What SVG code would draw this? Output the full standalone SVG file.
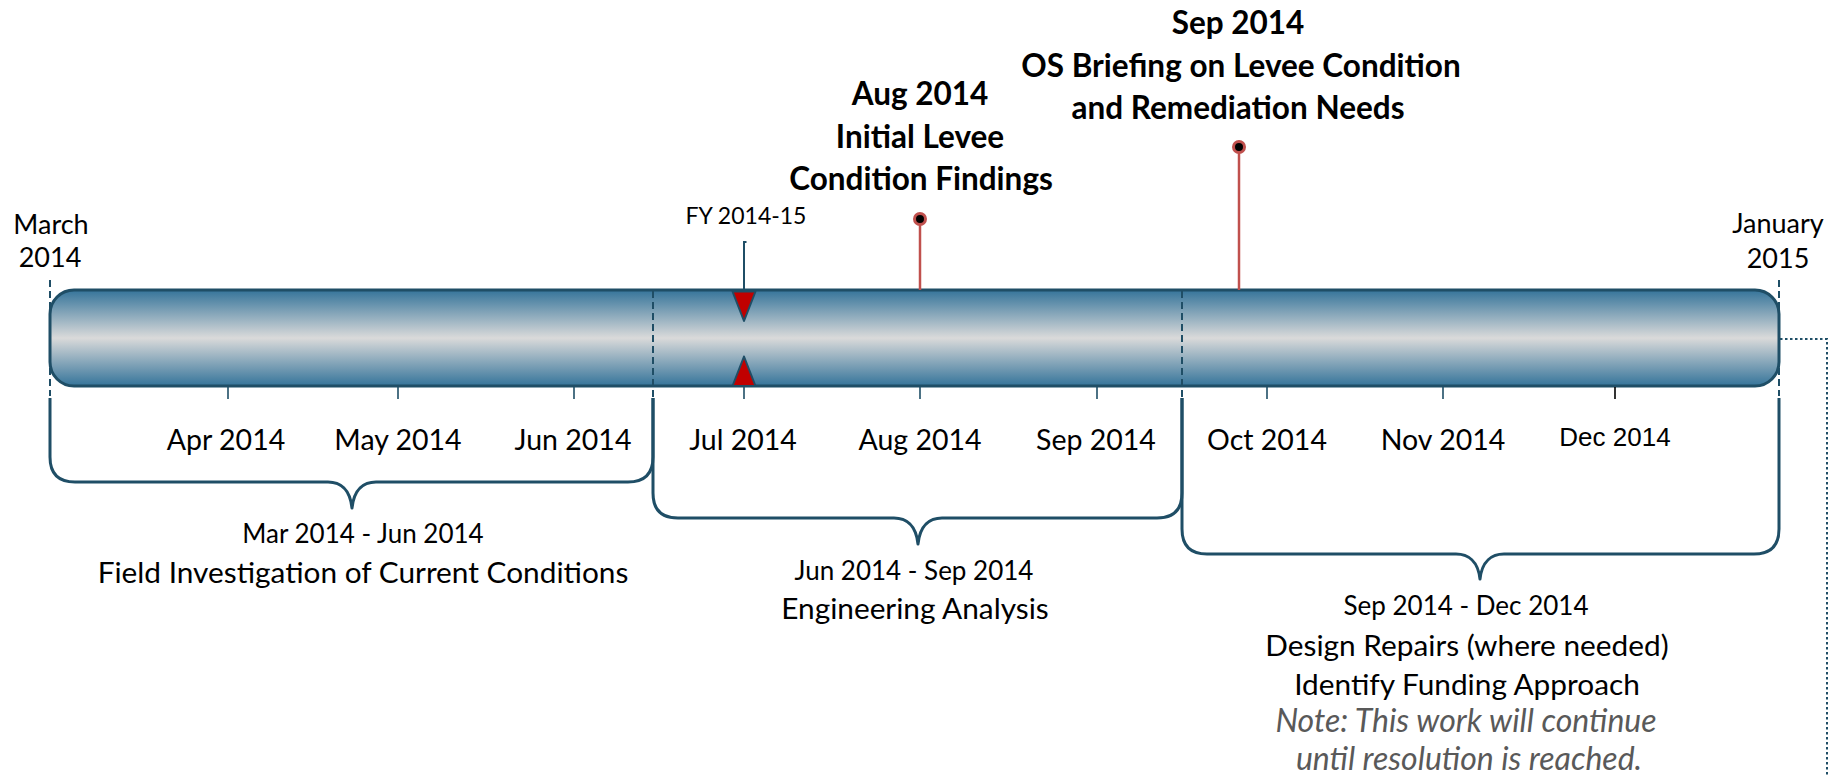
<svg xmlns="http://www.w3.org/2000/svg" width="1844" height="776" viewBox="0 0 1844 776">
<defs>
<linearGradient id="barGrad" x1="0" y1="0" x2="0" y2="1">
<stop offset="0" stop-color="#35749a"/>
<stop offset="0.5" stop-color="#dadada"/>
<stop offset="1" stop-color="#35749a"/>
</linearGradient>
<style>
text{font-family:Lato,"Open Sans","Liberation Sans",sans-serif;fill:#000;text-anchor:middle}
.mon{font-size:28.5px}
.end{font-size:27px}
.fy{font-size:23px}
.head{font-size:31.5px;font-weight:bold}
.rng{font-size:26px}
.desc{font-size:29.8px}
.note{font-size:32px;font-style:italic;fill:#595959}
.dec{font-family:"Liberation Sans",Arial,sans-serif;font-size:26px}
.brace{fill:none;stroke:#1f4e66;stroke-width:3;stroke-linejoin:round}
.tick{stroke:#1f4e66;stroke-width:1.6}
.dash{stroke:#1f4e66;stroke-width:2;stroke-dasharray:7 4}
.pin{stroke:#c0504d;stroke-width:2.5}
.pinhead{fill:#000;stroke:#c0504d;stroke-width:3}
.tri{fill:#c00000;stroke:#1f4e66;stroke-width:2;stroke-linejoin:round}
</style>
</defs>

<g id="timeline-bar">
<rect x="50" y="290" width="1729" height="96" rx="24" ry="24" fill="url(#barGrad)" stroke="#1f4e66" stroke-width="3"/>
<line class="dash" x1="653" y1="291" x2="653" y2="400"/>
<line class="dash" x1="1182" y1="291" x2="1182" y2="400"/>
<line class="dash" x1="50" y1="280" x2="50" y2="396"/>
<line class="dash" x1="1779" y1="280" x2="1779" y2="396"/>
</g>

<g id="month-ticks">
<line class="tick" x1="228" y1="387" x2="228" y2="399"/>
<line class="tick" x1="398" y1="387" x2="398" y2="399"/>
<line class="tick" x1="574" y1="387" x2="574" y2="399"/>
<line class="tick" x1="744" y1="387" x2="744" y2="399"/>
<line class="tick" x1="920" y1="387" x2="920" y2="399"/>
<line class="tick" x1="1097" y1="387" x2="1097" y2="399"/>
<line class="tick" x1="1267" y1="387" x2="1267" y2="399"/>
<line class="tick" x1="1443" y1="387" x2="1443" y2="399"/>
<line class="tick" x1="1615" y1="387" x2="1615" y2="399" style="stroke:#000"/>
</g>

<g id="month-labels">
<text class="mon" x="226" y="450">Apr 2014</text>
<text class="mon" x="398" y="450">May 2014</text>
<text class="mon" x="573" y="450">Jun 2014</text>
<text class="mon" x="743" y="450">Jul 2014</text>
<text class="mon" x="920" y="450">Aug 2014</text>
<text class="mon" x="1096" y="450">Sep 2014</text>
<text class="mon" x="1267" y="450">Oct 2014</text>
<text class="mon" x="1443" y="450">Nov 2014</text>
<text class="dec" x="1615" y="446">Dec 2014</text>
</g>

<g id="start-label">
<text class="end" x="51" y="234">March</text>
<text class="end" x="50" y="267">2014</text>
</g>
<g id="end-label">
<text class="end" x="1778" y="233">January</text>
<text class="end" x="1778" y="268">2015</text>
</g>

<g id="fy-marker">
<text class="fy" x="746" y="224">FY 2014-15</text>
<path d="M746.5 242 H744 V290" fill="none" stroke="#1f4e66" stroke-width="2"/>
<polygon class="tri" points="732.5,291.5 755.5,291.5 744,321"/>
<polygon class="tri" points="732.5,386 755.5,386 744,356.5"/>
</g>

<g id="connectors">
<line class="pin" x1="920" y1="224" x2="920" y2="290"/>
<line class="pin" x1="1239" y1="152" x2="1239" y2="290"/>
<path d="M1780 339 H1827 V776" fill="none" stroke="#1f4e66" stroke-width="2" stroke-dasharray="2.5 2.5"/>
</g>

<g id="milestone-aug">
<circle class="pinhead" cx="920" cy="219" r="5.5"/>
<text class="head" x="920" y="105">Aug 2014</text>
<text class="head" x="920" y="148">Initial Levee</text>
<text class="head" x="921" y="190">Condition Findings</text>
</g>

<g id="milestone-sep">
<circle class="pinhead" cx="1239" cy="147" r="5.5"/>
<text class="head" x="1238" y="34">Sep 2014</text>
<text class="head" x="1241" y="77">OS Briefing on Levee Condition</text>
<text class="head" x="1238" y="119">and Remediation Needs</text>
</g>

<g id="phase-field">
<path class="brace" d="M50 398 V457 Q50 482 75 482 H328 C340 482 350 489 352 508 C354 489 364 482 376 482 H628 Q653 482 653 457 V398"/>
<text class="rng" x="363" y="543">Mar 2014 - Jun 2014</text>
<text class="desc" x="363" y="583">Field Investigation of Current Conditions</text>
</g>

<g id="phase-engineering">
<path class="brace" d="M653 398 V493 Q653 518 678 518 H894 C906 518 916 525 918 544 C920 525 930 518 942 518 H1157 Q1182 518 1182 493 V398"/>
<text class="rng" x="914" y="580">Jun 2014 - Sep 2014</text>
<text class="desc" x="915" y="619">Engineering Analysis</text>
</g>

<g id="phase-design">
<path class="brace" d="M1182 398 V529 Q1182 554 1207 554 H1456 C1468 554 1478 561 1480 579 C1482 561 1492 554 1504 554 H1754 Q1779 554 1779 529 V398"/>
<text class="rng" x="1466" y="615">Sep 2014 - Dec 2014</text>
<text class="desc" x="1467" y="656">Design Repairs (where needed)</text>
<text class="desc" x="1467" y="695">Identify Funding Approach</text>
<text class="note" x="1466" y="732">Note: This work will continue</text>
<text class="note" x="1469" y="770">until resolution is reached.</text>
</g>
</svg>
